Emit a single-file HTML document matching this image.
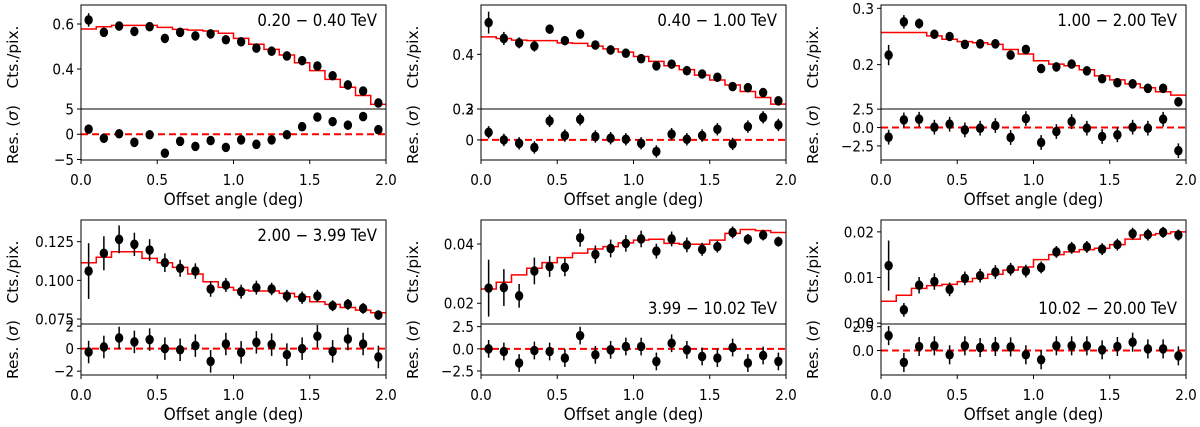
<!DOCTYPE html>
<html><head><meta charset="utf-8"><style>
body{margin:0;background:#fff;}
svg{display:block;font-family:"DejaVu Sans","Liberation Sans",sans-serif;}
</style></head><body>
<svg id="fig" width="1200" height="427" viewBox="0 0 1200 427" xmlns="http://www.w3.org/2000/svg"></svg>
<script>
const offsets = [0.05,0.15,0.25,0.35,0.45,0.55,0.65,0.75,0.85,0.95,1.05,1.15,1.25,1.35,1.45,1.55,1.65,1.75,1.85,1.95];
const binEdges = [0,0.1,0.2,0.3,0.4,0.5,0.6,0.7,0.8,0.9,1.0,1.1,1.2,1.3,1.4,1.5,1.6,1.7,1.8,1.9,2.0];
const xTicks = [0,0.5,1.0,1.5,2.0];
const energyLabels = ["0.20 \u2212 0.40 TeV","0.40 \u2212 1.00 TeV","1.00 \u2212 2.00 TeV","2.00 \u2212 3.99 TeV","3.99 \u2212 10.02 TeV","10.02 \u2212 20.00 TeV"];

const counts1 = [0.618,0.563,0.591,0.567,0.588,0.536,0.563,0.547,0.556,0.530,0.521,0.493,0.479,0.458,0.437,0.413,0.370,0.329,0.302,0.249];
const counts2 = [0.458,0.429,0.421,0.415,0.446,0.425,0.437,0.417,0.408,0.402,0.392,0.379,0.382,0.370,0.364,0.358,0.341,0.339,0.330,0.315];
const counts3 = [0.217,0.276,0.273,0.254,0.250,0.236,0.237,0.237,0.217,0.227,0.193,0.196,0.201,0.189,0.175,0.168,0.166,0.158,0.158,0.134];
const counts4 = [0.106,0.1175,0.1265,0.1233,0.1196,0.1114,0.1078,0.1060,0.0944,0.0970,0.0927,0.0953,0.0944,0.0899,0.0888,0.0899,0.0836,0.0845,0.0819,0.0776];
const counts5 = [0.0251,0.0253,0.0225,0.0309,0.0324,0.0321,0.0421,0.0365,0.0385,0.0402,0.0417,0.0376,0.0417,0.0397,0.0382,0.0391,0.0439,0.0416,0.0430,0.0408];
const counts6 = [0.0126,0.0029,0.0083,0.0091,0.0074,0.0098,0.0104,0.0112,0.0118,0.0114,0.0122,0.0156,0.0165,0.0167,0.0162,0.0172,0.0196,0.0194,0.0199,0.0193];

const errs1 = [0.03,0.012,0.01,0.01,0.01,0.01,0.008,0.008,0.008,0.008,0.008,0.007,0.007,0.007,0.007,0.007,0.006,0.006,0.006,0.006];
const errs2 = [0.02,0.012,0.01,0.01,0.008,0.008,0.008,0.007,0.007,0.007,0.007,0.007,0.006,0.006,0.006,0.006,0.006,0.006,0.006,0.005];
const errs3 = [0.018,0.012,0.009,0.008,0.007,0.007,0.006,0.006,0.006,0.006,0.005,0.005,0.005,0.005,0.005,0.005,0.005,0.004,0.004,0.004];
const errs4 = [0.018,0.011,0.009,0.0075,0.007,0.006,0.0055,0.005,0.005,0.0045,0.0045,0.0045,0.004,0.004,0.004,0.004,0.0035,0.0035,0.0035,0.003];
const errs5 = [0.0096,0.0062,0.004,0.0045,0.0035,0.003,0.003,0.003,0.003,0.0028,0.0028,0.0025,0.0025,0.0025,0.0022,0.002,0.002,0.0018,0.0018,0.0017];
const errs6 = [0.0055,0.0015,0.0018,0.0018,0.0015,0.0015,0.0015,0.0015,0.0014,0.0014,0.0013,0.0013,0.0013,0.0013,0.0013,0.0013,0.0013,0.0013,0.0012,0.0012];

const model1 = [0.578,0.588,0.594,0.594,0.594,0.585,0.576,0.573,0.569,0.559,0.536,0.510,0.487,0.462,0.428,0.393,0.354,0.319,0.282,0.243];
const model2 = [0.432,0.429,0.426,0.425,0.425,0.421,0.420,0.415,0.410,0.404,0.396,0.387,0.379,0.372,0.362,0.353,0.344,0.332,0.321,0.309];
const model3 = [0.257,0.257,0.257,0.251,0.245,0.241,0.239,0.236,0.227,0.219,0.207,0.201,0.198,0.191,0.180,0.173,0.166,0.159,0.152,0.146];
const model4 = [0.1114,0.1149,0.1185,0.1185,0.1142,0.1114,0.1084,0.1041,0.0991,0.0955,0.0937,0.0931,0.0931,0.0916,0.0894,0.0862,0.0845,0.0825,0.0808,0.0791];
const model5 = [0.0248,0.0271,0.0296,0.0318,0.0337,0.0354,0.0369,0.0383,0.0391,0.0404,0.0413,0.0416,0.0402,0.0399,0.0399,0.0413,0.0436,0.0449,0.0445,0.0439];
const model6 = [0.0048,0.0061,0.0076,0.0082,0.0085,0.0091,0.0098,0.0107,0.0116,0.0123,0.0139,0.0150,0.0156,0.0161,0.0164,0.0172,0.0184,0.0193,0.0196,0.0200];

const resid1 = [1.0,-0.8,0.1,-1.6,-0.1,-3.75,-1.4,-2.4,-1.25,-2.6,-1.1,-2.0,-1.1,-0.1,1.5,3.4,2.5,1.8,3.5,0.9];
const resid2 = [0.49,0,-0.22,-0.49,1.23,0.28,1.33,0.22,0.11,0.04,-0.22,-0.75,0.37,0.04,0.28,0.69,-0.26,0.86,1.46,0.97];
const resid3 = [-1.31,1.04,1.13,0.05,0.45,-0.32,-0.09,0.27,-1.35,1.22,-2.03,-0.54,0.81,-0.09,-1.22,-0.99,0.05,-0.09,1.13,-3.15];
const resid4 = [-0.3,0.15,0.95,0.6,0.8,0,-0.1,0.27,-1.13,0.41,-0.33,0.56,0.36,-0.53,0,1.1,-0.24,0.86,0.41,-0.74];
const resid5 = [0,-0.3,-1.6,-0.19,-0.3,-1.04,1.49,-0.67,-0.11,0.26,0.26,-1.42,0.63,-0.11,-0.86,-1.04,0.15,-1.6,-0.75,-1.42];
const resid6 = [1.56,-1.25,0.42,0.49,-0.45,0.49,0.31,0.42,0.38,-0.45,-0.97,0.49,0.49,0.49,0.07,0.42,0.87,0.17,0.17,-0.56];
const residErrs1 = [0.25,0.25,0.25,0.25,0.25,0.25,0.25,0.25,0.25,0.25,0.25,0.25,0.25,0.25,0.25,0.25,0.25,0.25,0.25,0.25];
const residErrs2 = [0.4,0.4,0.4,0.4,0.4,0.4,0.4,0.4,0.4,0.4,0.4,0.4,0.4,0.4,0.4,0.4,0.4,0.4,0.4,0.4];
const residErrsUnit = [1,1,1,1,1,1,1,1,1,1,1,1,1,1,1,1,1,1,1,1];

const mainTicks1 = [0.4,0.6], mainTickLabels1 = ["0.4","0.6"];
const mainTicks2 = [0.3,0.4], mainTickLabels2 = ["0.3","0.4"];
const mainTicks3 = [0.2,0.3], mainTickLabels3 = ["0.2","0.3"];
const mainTicks4 = [0.075,0.100,0.125], mainTickLabels4 = ["0.075","0.100","0.125"];
const mainTicks5 = [0.02,0.04], mainTickLabels5 = ["0.02","0.04"];
const mainTicks6 = [0.00,0.01,0.02], mainTickLabels6 = ["0.00","0.01","0.02"];
const resTicks1 = [-5,0,5], resTickLabels1 = ["\u22125","0","5"];
const resTicks2 = [0,2], resTickLabels2 = ["0","2"];
const resTicks3 = [-2.5,0,2.5], resTickLabels3 = ["\u22122.5","0.0","2.5"];
const resTicks4 = [-2,0,2], resTickLabels4 = ["\u22122","0","2"];
const resTicks5 = [-2.5,0,2.5], resTickLabels5 = ["\u22122.5","0.0","2.5"];
const resTicks6 = [0,2.5], resTickLabels6 = ["0.0","2.5"];

const mainLims = [[0.2222,0.6844],[0.3,0.4902],[0.1213,0.3059],[0.0718,0.139],[0.013,0.0481],[-0.0002,0.0226]];
const resLims = [[-5.1,5],[-1.3,2.0],[-4.41,2.52],[-2.34,2.19],[-2.95,2.8],[-2.57,2.78]];

const panels = [
 {c:counts1,e:errs1,m:model1,r:resid1,re:residErrs1,mt:mainTicks1,ml:mainTickLabels1,rt:resTicks1,rl:resTickLabels1},
 {c:counts2,e:errs2,m:model2,r:resid2,re:residErrs2,mt:mainTicks2,ml:mainTickLabels2,rt:resTicks2,rl:resTickLabels2},
 {c:counts3,e:errs3,m:model3,r:resid3,re:residErrsUnit,mt:mainTicks3,ml:mainTickLabels3,rt:resTicks3,rl:resTickLabels3},
 {c:counts4,e:errs4,m:model4,r:resid4,re:residErrsUnit,mt:mainTicks4,ml:mainTickLabels4,rt:resTicks4,rl:resTickLabels4},
 {c:counts5,e:errs5,m:model5,r:resid5,re:residErrsUnit,mt:mainTicks5,ml:mainTickLabels5,rt:resTicks5,rl:resTickLabels5},
 {c:counts6,e:errs6,m:model6,r:resid6,re:residErrsUnit,mt:mainTicks6,ml:mainTickLabels6,rt:resTicks6,rl:resTickLabels6}
];

const NS = "http://www.w3.org/2000/svg";
const fig = document.getElementById('fig');
function mk(tag, attrs, parent){const el=document.createElementNS(NS,tag);for(const k in attrs)el.setAttribute(k,attrs[k]);parent.appendChild(el);return el;}
const SY = 1.12, TICK = 13.6, LAB = 15.4;
function stretch(y){return `translate(0 ${y}) scale(1 ${SY}) translate(0 ${-y})`;}

const colX = [81,481,881], W = 305;
const rowY = [{top:5,mid:109,bot:160},{top:220,mid:324,bot:375}];

panels.forEach((p,i)=>{
  const col=i%3,row=Math.floor(i/3);
  const x0=colX[col],x1=x0+W,g=rowY[row];
  const grp=mk('g',{},fig);
  
  
  const sx=v=>x0+v/2*W;
  const [m0,m1]=mainLims[i],[r0,r1]=resLims[i];
  const sy=v=>g.mid-(v-m0)/(m1-m0)*(g.mid-g.top);
  const sr=v=>g.bot-(v-r0)/(r1-r0)*(g.bot-g.mid);
  let d='';
  p.m.forEach((v,k)=>{const xa=sx(binEdges[k]),xb=sx(binEdges[k+1]),y=sy(v);d+=(k?'L':'M')+xa+','+y+'L'+xb+','+y;});
  const st=mk('path',{d:d,fill:'none',stroke:'#ff0000','stroke-width':1.5},grp);
  
  
  const zl=mk('line',{x1:x0,x2:x1,y1:sr(0),y2:sr(0),stroke:'#ff0000','stroke-width':2,'stroke-dasharray':'7,4'},grp);
  
  
  offsets.forEach((xv,k)=>{
    const cx=sx(xv);
    const eb=mk('line',{x1:cx,x2:cx,y1:sy(p.c[k]-p.e[k]),y2:sy(p.c[k]+p.e[k]),stroke:'#000','stroke-width':1.5},grp);
    
    
    const pt=mk('ellipse',{cx:cx,cy:sy(p.c[k]),rx:4.2,ry:4.8,fill:'#000'},grp);
    
    
    const reb=mk('line',{x1:cx,x2:cx,y1:sr(p.r[k]-p.re[k]),y2:sr(p.r[k]+p.re[k]),stroke:'#000','stroke-width':1.5},grp);
    
    
    const rp=mk('ellipse',{cx:cx,cy:sr(p.r[k]),rx:4.2,ry:4.8,fill:'#000'},grp);
    
    
  });
  const f1=mk('rect',{x:x0,y:g.top,width:W,height:g.mid-g.top,fill:'none',stroke:'#000','stroke-width':1},grp);
  
  
  const f2=mk('rect',{x:x0,y:g.mid,width:W,height:g.bot-g.mid,fill:'none',stroke:'#000','stroke-width':1},grp);
  
  
  p.mt.forEach((t,k)=>{const y=sy(t);mk('line',{x1:x0-4,x2:x0,y1:y,y2:y,stroke:'#000'},grp);
    const by=y+5.5;
    const tx=mk('text',{x:x0-7,y:by,'text-anchor':'end','font-size':TICK,transform:stretch(by)},grp);tx.textContent=p.ml[k];
    
    });
  p.rt.forEach((t,k)=>{const y=sr(t);mk('line',{x1:x0-4,x2:x0,y1:y,y2:y,stroke:'#000'},grp);
    const by=y+5.5;
    const tx=mk('text',{x:x0-7,y:by,'text-anchor':'end','font-size':TICK,transform:stretch(by)},grp);tx.textContent=p.rl[k];
    
    });
  xTicks.forEach(t=>{const x=sx(t);mk('line',{x1:x,x2:x,y1:g.bot,y2:g.bot+4,stroke:'#000'},grp);
    const by=g.bot+25;
    const tx=mk('text',{x:x,y:by,'text-anchor':'middle','font-size':TICK,transform:stretch(by)},grp);tx.textContent=t.toFixed(1);
    
    });
  const xby=g.bot+45;
  const xl=mk('text',{x:(x0+x1)/2,y:xby,'text-anchor':'middle','font-size':LAB,transform:stretch(xby)},grp);xl.textContent='Offset angle (deg)';
  
  
  const yc=(g.top+g.mid)/2, rc=(g.mid+g.bot)/2, lx=x0-63;
  const yl=mk('text',{x:lx,y:yc,'text-anchor':'middle','font-size':LAB,transform:`rotate(-90 ${lx} ${yc})`},grp);yl.textContent='Cts./pix.';
  
  
  const rl=mk('text',{x:lx,y:rc,'text-anchor':'middle','font-size':LAB,transform:`rotate(-90 ${lx} ${rc})`},grp);rl.innerHTML='Res. (<tspan font-style="italic">σ</tspan>)';
  
  
  const ly = (i>=4)? g.mid-10 : g.top+21;
  const el=mk('text',{x:x1-9,y:ly,'text-anchor':'end','font-size':15,transform:stretch(ly)},grp);el.textContent=energyLabels[i];
  
  
});
</script>
</body></html>
